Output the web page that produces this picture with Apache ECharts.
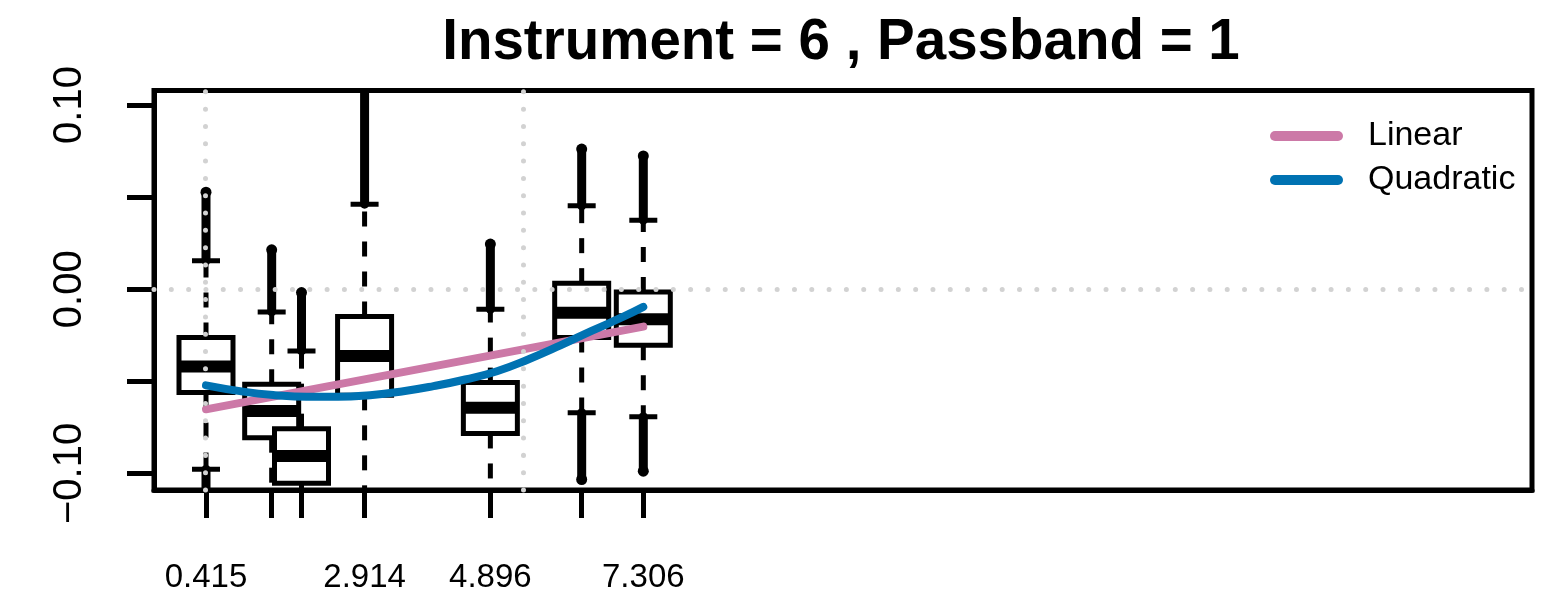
<!DOCTYPE html>
<html>
<head>
<meta charset="utf-8">
<script src="https://cdn.jsdelivr.net/npm/echarts@6/dist/echarts.min.js"></script>
<style>
  html, body { margin: 0; padding: 0; background: #ffffff; }
  #chart { width: 1552px; height: 598px; }
</style>
</head>
<body>
<div id="chart"></div>
<script>
// Box positions along the x axis and the ones that get a printed label
const positions = [0.415, 1.450, 1.920, 2.914, 4.896, 6.335, 7.306];
const tickLabels = [0.415, 2.914, 4.896, 7.306];

// Five-number summaries per box
const whiskerLow  = [-0.0978, -0.1150, -0.1150, -0.1150, -0.1150, -0.0670, -0.0692];
const quartile1   = [-0.0561, -0.0806, -0.1054, -0.0576, -0.0783, -0.0262, -0.0304];
const medians     = [-0.0420, -0.0661, -0.0906, -0.0362, -0.0643, -0.0127, -0.0163];
const quartile3   = [-0.0262, -0.0516, -0.0757, -0.0148, -0.0507,  0.0033, -0.0015];
const whiskerHigh = [ 0.0154, -0.0123, -0.0335,  0.0462, -0.0109,  0.0453,  0.0375];

// Most extreme outliers beyond each whisker (null = none)
const outlierHigh = [0.0527, 0.0214, -0.0018, 0.1150, 0.0245, 0.0761, 0.0724];
const outlierLow  = [-0.1150, null, null, null, null, -0.1033, -0.0988];

// Fitted trends
const linearX = [0.415, 7.306];
const linearY = [-0.0652, -0.0203];
const quadX = [0.415, 1.0, 1.5, 2.0, 2.5, 3.0, 3.5, 4.0, 4.5, 5.0, 5.5, 6.0, 6.5, 7.0, 7.306];
const quadY = [-0.0522, -0.0556, -0.0575, -0.0584, -0.0584, -0.0575, -0.0555, -0.0526,
               -0.0490, -0.0445, -0.0380, -0.0305, -0.0225, -0.0148, -0.0096];

// Reference lines and axis ticks
const gridX = [0.415, 5.415];
const gridY = [0];
const yTicks = [-0.10, -0.05, 0, 0.05, 0.10];
const yTickLabels = [-0.10, 0, 0.10];

const FONT = '"Liberation Sans", Arial, Helvetica, sans-serif';
const INK = '#000000';
const LW = 5;
// Rounded bar used as the legend key
const LEGEND_KEY = 'path://M5,0 L68,0 A5,5 0 0 1 68,10 L5,10 A5,5 0 0 1 5,0 Z';

const boxData = positions.map((x, i) =>
  [x, whiskerLow[i], quartile1[i], medians[i], quartile3[i], whiskerHigh[i]]);

const outlierData = [];
positions.forEach((x, i) => {
  if (outlierHigh[i] !== null) outlierData.push([x, whiskerHigh[i], outlierHigh[i]]);
  if (outlierLow[i] !== null) outlierData.push([x, whiskerLow[i], outlierLow[i]]);
});

function renderBox(params, api) {
  const x = api.value(0);
  const lo = api.coord([x, api.value(1)]);
  const q1 = api.coord([x, api.value(2)]);
  const md = api.coord([x, api.value(3)]);
  const q3 = api.coord([x, api.value(4)]);
  const hi = api.coord([x, api.value(5)]);
  const cx = lo[0];
  const hw = 27;   // half box width
  const sw = 14;   // half staple width
  const dashed = { stroke: INK, lineWidth: LW, lineDash: [15, 15], fill: null };
  const solid = { stroke: INK, lineWidth: LW, fill: null };
  return {
    type: 'group',
    children: [
      { type: 'line', shape: { x1: cx, y1: q3[1], x2: cx, y2: hi[1] }, style: dashed },
      { type: 'line', shape: { x1: cx, y1: q1[1], x2: cx, y2: lo[1] }, style: dashed },
      { type: 'line', shape: { x1: cx - sw, y1: hi[1], x2: cx + sw, y2: hi[1] }, style: solid },
      { type: 'line', shape: { x1: cx - sw, y1: lo[1], x2: cx + sw, y2: lo[1] }, style: solid },
      { type: 'rect', shape: { x: cx - hw, y: q3[1], width: hw * 2, height: q1[1] - q3[1] },
        style: { fill: '#ffffff', stroke: INK, lineWidth: LW } },
      { type: 'line', shape: { x1: cx - hw, y1: md[1], x2: cx + hw, y2: md[1] },
        style: { stroke: INK, lineWidth: 12 } }
    ]
  };
}

function renderOutliers(params, api) {
  const x = api.value(0);
  const a = api.coord([x, api.value(1)]);
  const b = api.coord([x, api.value(2)]);
  return {
    type: 'group',
    children: [
      { type: 'line', shape: { x1: a[0], y1: a[1], x2: b[0], y2: b[1] },
        style: { stroke: INK, lineWidth: 9, lineCap: 'round' } },
      { type: 'circle', shape: { cx: b[0], cy: b[1], r: 5.5 }, style: { fill: INK } }
    ]
  };
}

const chart = echarts.init(document.getElementById('chart'), null, { renderer: 'canvas' });

chart.setOption({
  animation: false,
  backgroundColor: '#ffffff',
  title: {
    text: 'Instrument = 6 , Passband = 1',
    left: 836,
    textAlign: 'center',
    top: 10,
    textStyle: { fontFamily: FONT, fontSize: 56.5, fontWeight: 'bold', color: INK }
  },
  legend: {
    orient: 'vertical',
    left: 1265,
    top: 114,
    itemWidth: 73,
    itemHeight: 10,
    itemGap: 10,
    data: [
      { name: 'Linear', icon: LEGEND_KEY },
      { name: 'Quadratic', icon: LEGEND_KEY }
    ],
    textStyle: { fontFamily: FONT, fontSize: 34, color: INK, padding: [0, 0, 0, 20] }
  },
  grid: {
    left: 154, top: 90.5, width: 1378, height: 399.5,
    show: true, borderColor: INK, borderWidth: LW, backgroundColor: 'transparent'
  },
  xAxis: {
    type: 'value',
    min: -0.4044, max: 21.31,
    splitLine: { show: false },
    axisLine: { show: true, onZero: false, lineStyle: { color: INK, width: LW } },
    axisTick: { show: true, inside: false, length: 28, lineStyle: { color: INK, width: LW },
                customValues: positions },
    axisLabel: {
      show: true, customValues: tickLabels, margin: 71,
      formatter: v => v.toFixed(3),
      fontFamily: FONT, fontSize: 33, color: INK
    }
  },
  yAxis: {
    type: 'value',
    min: -0.1090, max: 0.1079,
    splitLine: { show: false },
    axisLine: { show: true, onZero: false, lineStyle: { color: INK, width: LW } },
    axisTick: { show: true, inside: false, length: 27, lineStyle: { color: INK, width: LW },
                customValues: yTicks },
    axisLabel: {
      show: true, customValues: yTickLabels, rotate: 90, margin: 64,
      formatter: v => (v < 0 ? '\u2212' : '') + Math.abs(v).toFixed(2),
      fontFamily: FONT, fontSize: 40, color: INK
    }
  },
  series: [
    {
      type: 'custom', name: 'boxes', clip: true, z: 2,
      renderItem: renderBox, data: boxData, silent: true
    },
    {
      type: 'custom', name: 'outliers', clip: true, z: 3,
      renderItem: renderOutliers, data: outlierData, silent: true
    },
    {
      type: 'line', name: 'Linear', z: 4,
      data: linearX.map((x, i) => [x, linearY[i]]),
      showSymbol: false, symbol: 'none',
      lineStyle: { color: '#CC79A7', width: 8, cap: 'round' },
      itemStyle: { color: '#CC79A7' }
    },
    {
      type: 'line', name: 'Quadratic', z: 5, smooth: true,
      data: quadX.map((x, i) => [x, quadY[i]]),
      showSymbol: false, symbol: 'none',
      lineStyle: { color: '#0072B2', width: 8, cap: 'round' },
      itemStyle: { color: '#0072B2' }
    },
    {
      type: 'line', name: 'reference', z: 6, data: [], silent: true,
      markLine: {
        silent: true, symbol: ['none', 'none'], label: { show: false },
        lineStyle: { color: '#d2d2d2', width: 5, type: [0.01, 17.3], cap: 'round' },
        data: gridX.map(v => ({ xAxis: v })).concat(gridY.map(v => ({ yAxis: v })))
      }
    }
  ]
});
</script>
</body>
</html>
